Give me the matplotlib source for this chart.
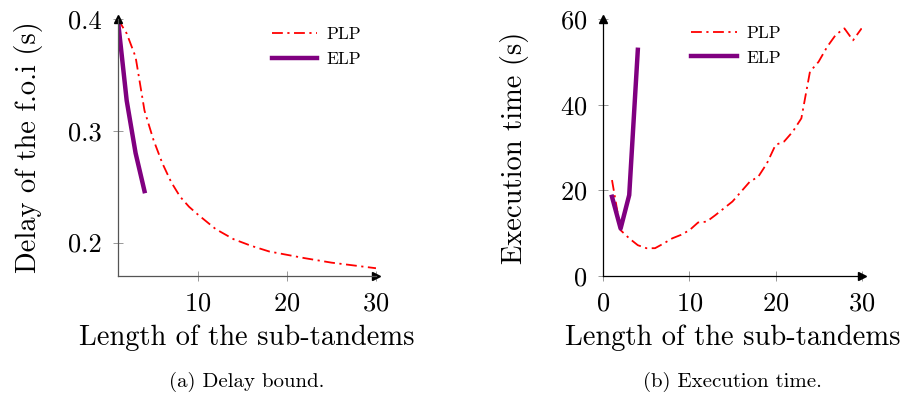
import numpy as np
import matplotlib
matplotlib.use("Agg")
import matplotlib.pyplot as plt

plt.rcParams['font.family'] = ['cmr10', 'DejaVu Serif']
plt.rcParams['mathtext.fontset'] = 'cm'
plt.rcParams['axes.formatter.use_mathtext'] = True

# left panel: delay of the flow of interest
plp_len = [1, 2, 3, 4, 5, 6, 7, 8, 9, 10, 12, 14, 16, 18, 20, 22, 25, 28, 30]
plp_delay = [0.400, 0.387, 0.366, 0.318, 0.292, 0.271, 0.254, 0.241, 0.232, 0.225,
             0.212, 0.203, 0.197, 0.192, 0.189, 0.186, 0.182, 0.179, 0.177]
elp_len = [1, 2, 3, 4]
elp_delay = [0.400, 0.327, 0.280, 0.246]

# right panel: execution time
plp_len_t = list(range(1, 31))
plp_time = [22.4, 10.7, 8.8, 7.2, 6.5, 6.5, 7.6, 8.8, 9.6, 10.7,
            12.5, 12.7, 14.2, 15.8, 17.4, 19.7, 22.0, 23.2, 26.3, 30.6,
            31.4, 33.7, 36.8, 47.7, 50.0, 53.5, 56.3, 57.8, 55.0, 57.8]
elp_time = [18.5, 11.1, 18.9, 52.8]

xlabel = "Length of the sub-tandems"
ylabels = ["Delay of the f.o.i (s)", "Execution time (s)"]
captions = ["(a) Delay bound.", "(b) Execution time."]

fig = plt.figure(figsize=(9.06, 4.03), dpi=100)
ax1 = fig.add_axes([0.130, 0.315, 0.285, 0.638])
ax2 = fig.add_axes([0.666, 0.315, 0.285, 0.638])


def style(ax, col):
    for s in ['top', 'right']:
        ax.spines[s].set_visible(False)
    for s in ['left', 'bottom']:
        ax.spines[s].set_color(col)
        ax.spines[s].set_linewidth(0.9)
    ax.tick_params(direction='inout', length=7, width=0.6, color='#888888',
                   labelsize=19, pad=8)
    ax.plot(1, 0, '>', ms=6, color='black', transform=ax.transAxes, clip_on=False)
    ax.plot(0, 1, '^', ms=6, color='black', transform=ax.transAxes, clip_on=False)


def draw(ax, x1, y1, x2, y2, anchor):
    ax.plot(x1, y1, color='red', lw=1.3, dashes=(6, 2.5, 1.2, 2.5), label='PLP')
    ax.plot(x2, y2, color='#800080', lw=3.2, label='ELP')
    ax.legend(loc='upper left', frameon=False, fontsize=12.5, handlelength=2.6,
              handletextpad=0.55, bbox_to_anchor=anchor, borderpad=0,
              borderaxespad=0, labelspacing=0.55)


draw(ax1, plp_len, plp_delay, elp_len, elp_delay, (0.597, 0.97))
ax1.set_xlim(1, 30)
ax1.set_ylim(0.17, 0.4)
ax1.set_xticks([10, 20, 30])
ax1.set_yticks([0.2, 0.3, 0.4])
ax1.set_yticklabels(['0.2', '0.3', '0.4'])
style(ax1, '#555555')

draw(ax2, plp_len_t, plp_time, elp_len, elp_time, (0.341, 0.975))
ax2.set_xlim(0, 30)
ax2.set_ylim(0, 60)
ax2.set_xticks([0, 10, 20, 30])
ax2.set_yticks([0, 20, 40, 60])
style(ax2, 'black')

for ax, yl, cap in zip([ax1, ax2], ylabels, captions):
    ax.set_xlabel(xlabel, fontsize=20.5)
    ax.set_ylabel(yl, fontsize=20.5)
    ax.xaxis.set_label_coords(0.5, -0.19)
    ax.yaxis.set_label_coords(-0.29, 0.5)
    ax.text(0.5, -0.41, cap, transform=ax.transAxes, ha='center', va='center',
            fontsize=15)

fig.savefig('out.png', dpi=100)
